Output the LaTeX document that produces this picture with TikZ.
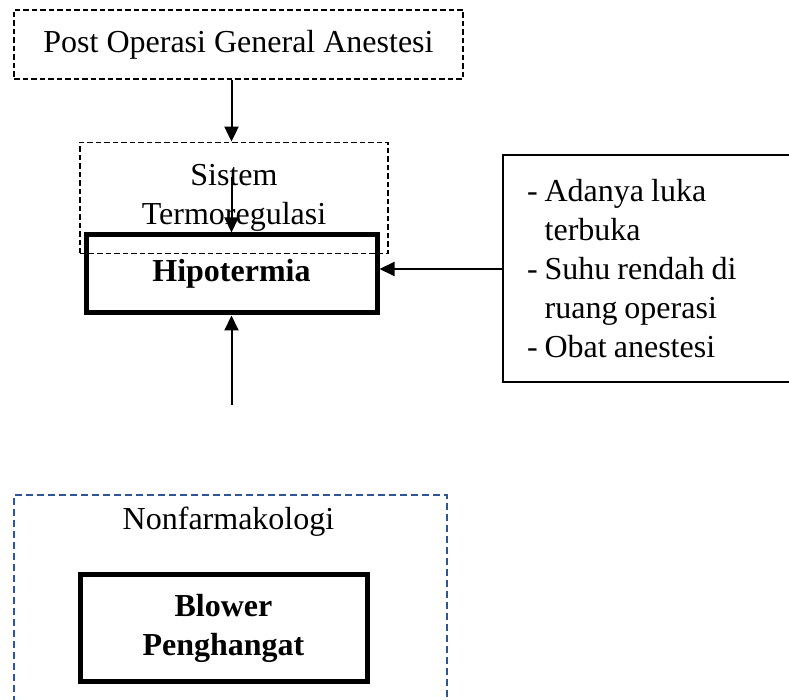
\documentclass[tikz,border=0pt]{standalone}
\usepackage{fontspec}
\setmainfont{Liberation Serif}
\usetikzlibrary{arrows.meta}
\definecolor{dashblue}{RGB}{47,85,151}

\begin{document}
\begin{tikzpicture}[
        x=0.5pt, y=-0.5pt,
        every node/.style={font=\fontsize{16}{19.5}\selectfont, inner sep=0pt, align=center},
        dashbox/.style={draw, line width=0.9pt, dash pattern=on 2.75pt off 1.5pt},
        bluebox/.style={draw=dashblue, line width=0.9pt, dash pattern=on 3.5pt off 2pt},
        thickbox/.style={draw, line width=2.5pt, font=\fontsize{16}{19.5}\selectfont\bfseries},
        factors/.style={draw, line width=1pt, align=left, inner xsep=12pt, text width=120.5pt, minimum height=113.5pt},
        link/.style={-{Triangle[width=7pt,length=7.5pt]}, line width=1pt}
    ]

        \useasboundingbox (0,0) rectangle (789,700);
        \clip (0,0) rectangle (789,700);

        \node[dashbox, minimum width=224.5pt, minimum height=34.5pt] (postop) at (238.5,44.5) {Post Operasi General Anestesi};
        \node[dashbox, minimum width=154pt, minimum height=55.5pt] (sistem) at (234,198) {Sistem\\Termoregulasi};
        \node[thickbox, minimum width=145.5pt, minimum height=39pt] (hipo) at (231.5,274) {Hipotermia};
        \node[factors] (risk) at (647.5,269) {\spaceskip=3.5pt\relax - Adanya luka\\\phantom{- }terbuka\\- Suhu rendah di\\\phantom{- }ruang operasi\\- Obat anestesi};

        \node[bluebox, minimum width=216.5pt, minimum height=110pt, anchor=north] (nonfarm) at (230.5,494) {};
        \node[anchor=north] (nonfarmtitle) at (228.5,507) {Nonfarmakologi};
        \node[thickbox, minimum width=143.5pt, minimum height=53.5pt] (blower) at (223.5,628) {Blower\\Penghangat};

        \coordinate (inner) at (231.5,177);
        \coordinate (lower) at (231.5,405);

        \draw[link] (postop.south -| hipo) -- (sistem.north -| hipo);
        \draw[link] (inner) -- (hipo.north);
        \draw[link] (risk.west) -- (risk.west -| hipo.east);
        \draw[link] (lower) -- (hipo.south);

    \end{tikzpicture}
\end{document}
